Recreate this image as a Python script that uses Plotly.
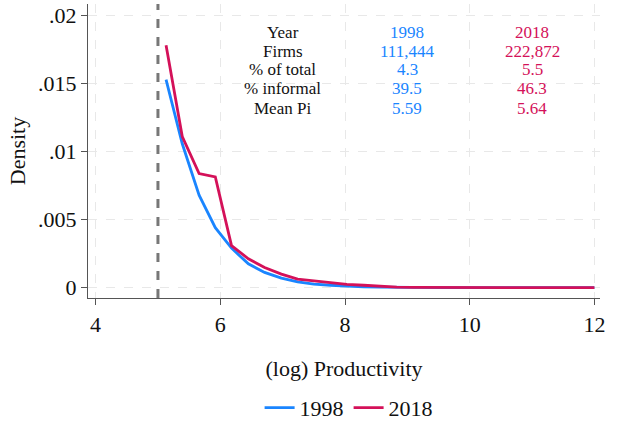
import plotly.graph_objects as go

# ---- data ----
x_grid = [5.13, 5.39, 5.66, 5.92, 6.18, 6.45, 6.71, 6.98, 7.24, 7.50, 7.77, 8.03,
          8.30, 8.56, 8.83, 9.09, 9.35, 9.62, 9.88, 10.15, 10.41, 10.68, 10.94,
          11.20, 11.47, 11.73, 12.00]
dens_1998 = [0.01526, 0.01056, 0.00679, 0.00440, 0.00290, 0.00175, 0.00112,
             0.00071, 0.00042, 0.00027, 0.00018, 0.00011, 0.00007, 0.00004,
             0.00002, 0.00001, 0.000005, 0.0, 0.0, 0.0, 0.0, 0.0, 0.0, 0.0, 0.0,
             0.0, 0.0]
dens_2018 = [0.01779, 0.01109, 0.00837, 0.00813, 0.00309, 0.00212, 0.00148,
             0.00100, 0.00063, 0.00049, 0.00039, 0.00025, 0.00018, 0.00010,
             0.00004, 0.00002, 0.00001, 0.000005, 0.0, 0.0, 0.0, 0.0, 0.0, 0.0,
             0.0, 0.0, 0.0]
threshold = 5

table_labels = ["Year", "Firms", "% of total", "% informal", "Mean Pi"]
table_1998 = ["1998", "111,444", "4.3", "39.5", "5.59"]
table_2018 = ["2018", "222,872", "5.5", "46.3", "5.64"]
table_rows_y = [0.01875, 0.01736, 0.01597, 0.01458, 0.01318]
table_cols_x = [7, 9, 11]

x_ticks = [4, 6, 8, 10, 12]
y_ticks = [0, 0.005, 0.01, 0.015, 0.02]
y_ticklabels = ["0", ".005", ".01", ".015", ".02"]

BLUE = "#1A85FF"
RED = "#D41159"
FONT = "Liberation Serif"
INK = "#111111"

fig = go.Figure()
fig.add_trace(go.Scatter(x=x_grid, y=dens_1998, mode="lines", name="1998",
                         line=dict(color=BLUE, width=2.8)))
fig.add_trace(go.Scatter(x=x_grid, y=dens_2018, mode="lines", name="2018",
                         line=dict(color=RED, width=2.8)))

fig.add_vline(x=threshold, line=dict(color="#777777", width=3, dash="dash"), layer="below")

for col_x, vals, color in zip(table_cols_x, [table_labels, table_1998, table_2018],
                              [INK, BLUE, RED]):
    for yy, txt in zip(table_rows_y, vals):
        fig.add_annotation(x=col_x, y=yy, xref="x", yref="y", text=txt,
                           showarrow=False, xanchor="center", yanchor="middle",
                           font=dict(family=FONT, size=17, color=color))

axis_common = dict(showline=True, linecolor="#555555", linewidth=1.3,
                   ticks="outside", ticklen=6, tickcolor="#555555",
                   showgrid=True, gridcolor="#e8e8e8", gridwidth=1, griddash="dash",
                   zeroline=False, automargin=False,
                   tickfont=dict(family=FONT, size=22, color=INK))

fig.update_xaxes(range=[3.878, 12.09], tickvals=x_ticks,
                 title=dict(text="(log) Productivity", font=dict(family=FONT, size=22, color=INK),
                            standoff=25),
                 **axis_common)
fig.update_yaxes(range=[-0.000755, 0.02081], tickvals=y_ticks, ticktext=y_ticklabels,
                 title=dict(text="Density", font=dict(family=FONT, size=22, color=INK),
                            standoff=6),
                 **axis_common)

fig.update_layout(
    width=617, height=424,
    margin=dict(l=88, r=17, t=4, b=126),
    plot_bgcolor="white", paper_bgcolor="white",
    font=dict(family=FONT, size=22, color=INK),
    showlegend=True,
    legend=dict(orientation="h", xref="container", yref="container",
                x=0.565, xanchor="center", y=0.038, yanchor="middle",
                font=dict(family=FONT, size=22), itemwidth=30, bgcolor="rgba(0,0,0,0)"),
)

fig.write_html("out.html", config={"displayModeBar": False},
               post_script="document.body.style.margin='0';document.body.style.padding='0';")
